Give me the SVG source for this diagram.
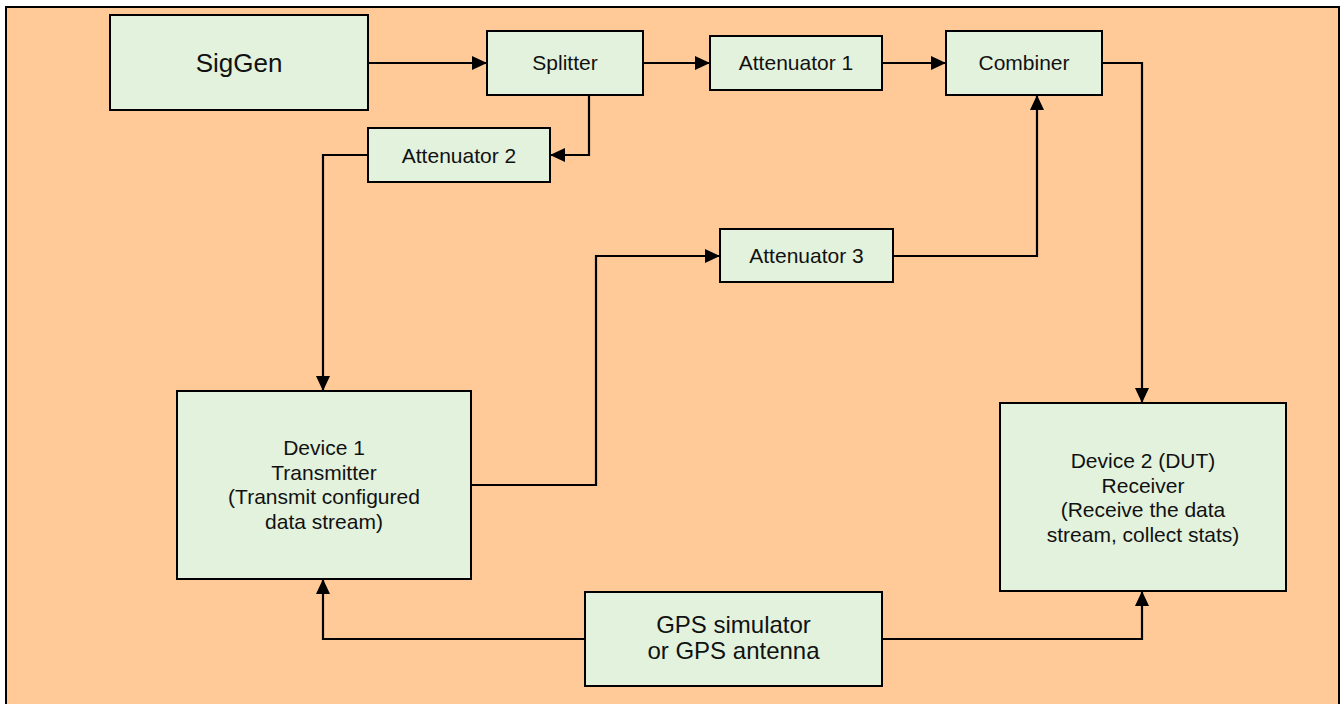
<svg xmlns="http://www.w3.org/2000/svg" width="1341" height="704" viewBox="0 0 1341 704">
  <style>
    .box { fill: #E3F2DD; stroke: #000; stroke-width: 2; }
    .lbl { font-family: "Liberation Sans", Arial, sans-serif; font-size: 21px; fill: #111; text-anchor: middle; }
    .big { font-size: 26px; }
    .gps { font-size: 24px; }
    .wire { fill: none; stroke: #000; stroke-width: 2.2; marker-end: url(#arrow); }
  </style>
  <defs>
    <marker id="arrow" markerUnits="userSpaceOnUse" markerWidth="16" markerHeight="14" refX="15" refY="7" orient="auto">
      <path d="M0,0 L15,7 L0,14 z" fill="#000"/>
    </marker>
  </defs>

  <!-- panel background -->
  <rect x="6" y="7" width="1333" height="710" fill="#FFCA98" stroke="#000" stroke-width="2"/>

  <!-- signal path connectors -->
  <g id="connectors">
    <path class="wire" d="M368,63 L487,63"/>
    <path class="wire" d="M643,63 L710,63"/>
    <path class="wire" d="M882,63 L946,63"/>
    <path class="wire" d="M589,95 L589,155 L550,155"/>
    <path class="wire" d="M368,155 L323,155 L323,391"/>
    <path class="wire" d="M471,485 L596,485 L596,256 L720,256"/>
    <path class="wire" d="M893,256 L1037,256 L1037,95"/>
    <path class="wire" d="M1102,63 L1142,63 L1142,403"/>
    <path class="wire" d="M585,639 L323,639 L323,579"/>
    <path class="wire" d="M882,639 L1142,639 L1142,591"/>
  </g>

  <g id="siggen">
    <rect class="box" x="110" y="15" width="258" height="95"/>
    <text class="lbl big" x="239" y="72">SigGen</text>
  </g>

  <g id="splitter">
    <rect class="box" x="487" y="31" width="156" height="64"/>
    <text class="lbl" x="565" y="70">Splitter</text>
  </g>

  <g id="attenuator1">
    <rect class="box" x="710" y="36" width="172" height="54"/>
    <text class="lbl" x="796" y="70">Attenuator 1</text>
  </g>

  <g id="combiner">
    <rect class="box" x="946" y="31" width="156" height="64"/>
    <text class="lbl" x="1024" y="70">Combiner</text>
  </g>

  <g id="attenuator2">
    <rect class="box" x="368" y="128" width="182" height="54"/>
    <text class="lbl" x="459" y="162.5">Attenuator 2</text>
  </g>

  <g id="attenuator3">
    <rect class="box" x="720" y="229" width="173" height="53"/>
    <text class="lbl" x="806.5" y="263">Attenuator 3</text>
  </g>

  <g id="device1">
    <rect class="box" x="177" y="391" width="294" height="188"/>
    <text class="lbl" x="324" y="455">Device 1</text>
    <text class="lbl" x="324" y="479.5">Transmitter</text>
    <text class="lbl" x="324" y="504">(Transmit configured</text>
    <text class="lbl" x="324" y="528.5">data stream)</text>
  </g>

  <g id="device2">
    <rect class="box" x="1000" y="403" width="286" height="188"/>
    <text class="lbl" x="1143" y="468">Device 2 (DUT)</text>
    <text class="lbl" x="1143" y="492.5">Receiver</text>
    <text class="lbl" x="1143" y="517">(Receive the data</text>
    <text class="lbl" x="1143" y="541.5">stream, collect stats)</text>
  </g>

  <g id="gps">
    <rect class="box" x="585" y="592" width="297" height="94"/>
    <text class="lbl gps" x="733.5" y="633">GPS simulator</text>
    <text class="lbl gps" x="733.5" y="659">or GPS antenna</text>
  </g>
</svg>
